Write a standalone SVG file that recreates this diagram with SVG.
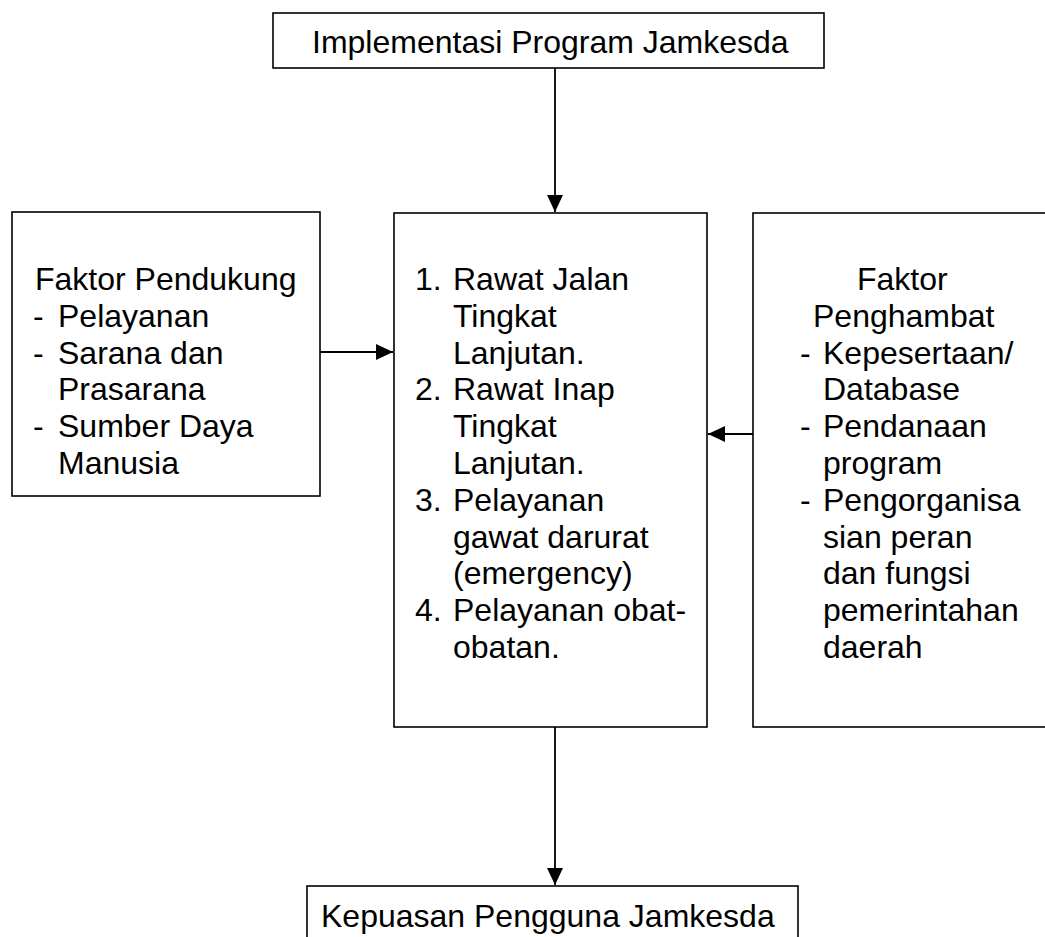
<svg xmlns="http://www.w3.org/2000/svg" width="1045" height="937" viewBox="0 0 1045 937">
<style>
.box{fill:#fff;stroke:#000;stroke-width:1.6}
.t{font-family:"Liberation Sans",Arial,sans-serif;font-size:32px;fill:#000}
.c{stroke:#000;stroke-width:1.8;fill:none}
</style>
<defs>
<marker id="ah" markerUnits="userSpaceOnUse" markerWidth="18" markerHeight="16" refX="17" refY="8" orient="auto">
<path d="M0,0 L17,8 L0,16 Z" fill="#000"/>
</marker>
</defs>
<rect width="1045" height="937" fill="#fff"/>
<g id="connectors">
<line class="c" x1="555" y1="68" x2="555" y2="212" marker-end="url(#ah)"/>
<line class="c" x1="320" y1="352" x2="393" y2="352" marker-end="url(#ah)"/>
<line class="c" x1="753" y1="434" x2="708" y2="434" marker-end="url(#ah)"/>
<line class="c" x1="555" y1="727" x2="555" y2="885" marker-end="url(#ah)"/>
</g>
<g id="top">
<rect class="box" x="273" y="13" width="551" height="55"/>
<text class="t" x="312" y="53">Implementasi Program Jamkesda</text>
</g>
<g id="left">
<rect class="box" x="12" y="212" width="308" height="284"/>
<text class="t" x="35" y="290">Faktor Pendukung</text>
<text class="t" x="33" y="326.8">-</text><text class="t" x="58" y="326.8">Pelayanan</text>
<text class="t" x="33" y="363.6">-</text><text class="t" x="58" y="363.6">Sarana dan</text>
<text class="t" x="58" y="400.4">Prasarana</text>
<text class="t" x="33" y="437.2">-</text><text class="t" x="58" y="437.2">Sumber Daya</text>
<text class="t" x="58" y="474">Manusia</text>
</g>
<g id="middle">
<rect class="box" x="394" y="213" width="313" height="514"/>
<text class="t" x="415" y="290">1.</text><text class="t" x="453" y="290">Rawat Jalan</text>
<text class="t" x="453" y="326.8">Tingkat</text>
<text class="t" x="453" y="363.6">Lanjutan.</text>
<text class="t" x="415" y="400.4">2.</text><text class="t" x="453" y="400.4">Rawat Inap</text>
<text class="t" x="453" y="437.2">Tingkat</text>
<text class="t" x="453" y="474">Lanjutan.</text>
<text class="t" x="415" y="510.8">3.</text><text class="t" x="453" y="510.8">Pelayanan</text>
<text class="t" x="453" y="547.6">gawat darurat</text>
<text class="t" x="453" y="584.4">(emergency)</text>
<text class="t" x="415" y="621.2">4.</text><text class="t" x="453" y="621.2">Pelayanan obat-</text>
<text class="t" x="453" y="658">obatan.</text>
</g>
<g id="right">
<rect class="box" x="753" y="213" width="320" height="514"/>
<text class="t" x="857" y="290">Faktor</text>
<text class="t" x="813" y="326.8">Penghambat</text>
<text class="t" x="800" y="363.6">-</text><text class="t" x="823" y="363.6">Kepesertaan/</text>
<text class="t" x="823" y="400.4">Database</text>
<text class="t" x="800" y="437.2">-</text><text class="t" x="823" y="437.2">Pendanaan</text>
<text class="t" x="823" y="474">program</text>
<text class="t" x="800" y="510.8">-</text><text class="t" x="823" y="510.8">Pengorganisa</text>
<text class="t" x="823" y="547.6">sian peran</text>
<text class="t" x="823" y="584.4">dan fungsi</text>
<text class="t" x="823" y="621.2">pemerintahan</text>
<text class="t" x="823" y="658">daerah</text>
</g>
<g id="bottom">
<rect class="box" x="307" y="886" width="491" height="70"/>
<text class="t" x="321" y="927">Kepuasan Pengguna Jamkesda</text>
</g>
</svg>
